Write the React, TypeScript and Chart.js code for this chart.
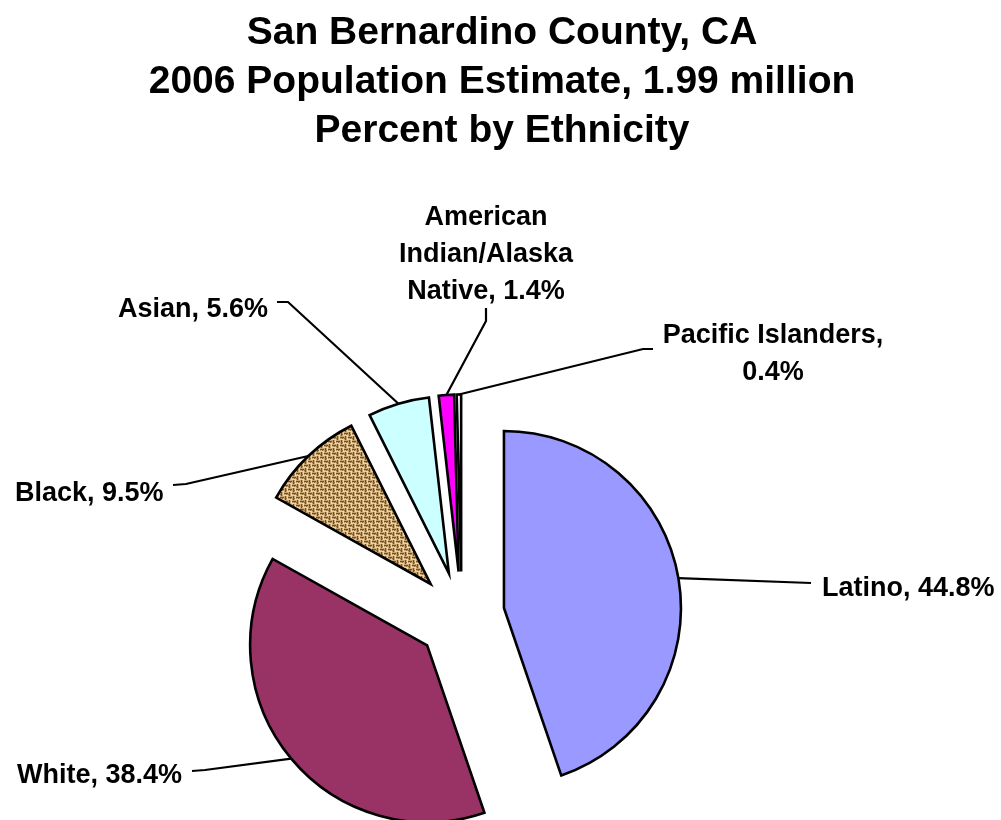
import React, { useEffect, useRef } from "react";
import { Chart, registerables } from "chart.js";

Chart.register(...registerables);

// ---------- data ----------
const categories = [
  "Latino",
  "White",
  "Black",
  "Asian",
  "American Indian/Alaska Native",
  "Pacific Islanders",
];
const percentValues = [44.8, 38.4, 9.5, 5.6, 1.4, 0.4];
const titleLines = [
  "San Bernardino County, CA",
  "2006 Population Estimate, 1.99 million",
  "Percent by Ethnicity",
];

// ---------- styles / layout ----------
const W = 1001;
const H = 820;
const FONT = '"Liberation Sans", Arial, Helvetica, sans-serif';
const sliceColors = ["#9999FF", "#993366", "PATTERN", "#CCFFFF", "#FF00FF", "#FFFFFF"];
const PIE_CENTER = { x: 461.7, y: 616.5 };
const PIE_RADIUS = 177;
// explosion of each slice (px) and optional direction override (deg, 0 = 3 o'clock, clockwise)
const explodeDist = [43.1, 45, 45, 45, 45, 45];
const explodeDir: (number | null)[] = [-11.4, null, null, null, null, null];
// where the leader line meets the slice edge (deg), null = slice bisector
const attachDir: (number | null)[] = [-9.7, null, null, null, null, null];
const LABEL_SIZE = 27;
const LABEL_LINE_H = 37;
const labelWrap = [999, 999, 999, 999, 185, 250];
const labelPlace: { x: number; y: number; align: CanvasTextAlign; leader: number[][] }[] = [
  { x: 822, y: 596, align: "left", leader: [[811, 583]] },
  { x: 17, y: 783, align: "left", leader: [[192, 771], [205, 770]] },
  { x: 15, y: 501, align: "left", leader: [[173, 485], [186, 484]] },
  { x: 268, y: 317, align: "right", leader: [[277, 302], [288, 302]] },
  { x: 486, y: 225, align: "center", leader: [[486, 308], [486, 321]] },
  { x: 773, y: 343, align: "center", leader: [[653, 349], [643, 349]] },
];
const TITLE_SIZE = 39;
const titleBaselines = [44, 93, 142];
const TITLE_X = 502;

function makeBurlap(): CanvasPattern | string {
  const c = document.createElement("canvas");
  c.width = 8;
  c.height = 8;
  const g = c.getContext("2d");
  if (!g) return "#B8956A";
  g.fillStyle = "#C7A572";
  g.fillRect(0, 0, 8, 8);
  g.fillStyle = "#6E5029";
  // basket weave: horizontal strands in TL/BR, vertical in TR/BL
  g.fillRect(0, 1, 4, 1);
  g.fillRect(4, 5, 4, 1);
  g.fillRect(5, 0, 1, 4);
  g.fillRect(1, 4, 1, 4);
  g.fillStyle = "#EAD6A4";
  g.fillRect(0, 3, 4, 1);
  g.fillRect(4, 7, 4, 1);
  g.fillRect(7, 0, 1, 4);
  g.fillRect(3, 4, 1, 4);
  g.fillStyle = "#93703F";
  g.fillRect(2, 2, 1, 1);
  g.fillRect(6, 6, 1, 1);
  g.fillRect(0, 6, 1, 1);
  g.fillRect(6, 2, 1, 1);
  const p = g.createPattern(c, "repeat");
  return p || "#B8956A";
}

function wrapText(ctx: CanvasRenderingContext2D, text: string, maxW: number): string[] {
  const words = text.split(" ");
  const lines: string[] = [];
  let cur = "";
  for (const w of words) {
    const t = cur ? cur + " " + w : w;
    if (cur && ctx.measureText(t).width > maxW) {
      lines.push(cur);
      cur = w;
    } else cur = t;
  }
  if (cur) lines.push(cur);
  return lines;
}

const explodePlugin = {
  id: "explodeSlices",
  afterDatasetUpdate(chart: any, args: any) {
    const meta = args.meta;
    meta.data.forEach((arc: any, i: number) => {
      const mid = (arc.startAngle + arc.endAngle) / 2;
      const dir = explodeDir[i] != null ? ((explodeDir[i] as number) * Math.PI) / 180 : mid;
      const d = explodeDist[i] || 0;
      arc.x += d * Math.cos(dir);
      arc.y += d * Math.sin(dir);
    });
  },
};

const labelPlugin = {
  id: "pieLabels",
  afterDraw(chart: any) {
    const ctx: CanvasRenderingContext2D = chart.ctx;
    ctx.save();
    // title
    ctx.fillStyle = "#000";
    ctx.textAlign = "center";
    ctx.textBaseline = "alphabetic";
    ctx.font = `bold ${TITLE_SIZE}px ${FONT}`;
    titleLines.forEach((t, i) => ctx.fillText(t, TITLE_X, titleBaselines[i]));

    const meta = chart.getDatasetMeta(0);
    ctx.font = `bold ${LABEL_SIZE}px ${FONT}`;
    meta.data.forEach((arc: any, i: number) => {
      const p = labelPlace[i];
      const mid = (arc.startAngle + arc.endAngle) / 2;
      const a = attachDir[i] != null ? ((attachDir[i] as number) * Math.PI) / 180 : mid;
      const ax = arc.x + arc.outerRadius * Math.cos(a);
      const ay = arc.y + arc.outerRadius * Math.sin(a);
      ctx.strokeStyle = "#000";
      ctx.lineWidth = 2.2;
      ctx.lineJoin = "miter";
      ctx.beginPath();
      p.leader.forEach((pt, k) => (k === 0 ? ctx.moveTo(pt[0], pt[1]) : ctx.lineTo(pt[0], pt[1])));
      ctx.lineTo(ax, ay);
      ctx.stroke();

      const text = `${categories[i]}, ${percentValues[i].toFixed(1)}%`;
      const lines = wrapText(ctx, text, labelWrap[i]);
      ctx.textAlign = p.align;
      lines.forEach((ln, k) => ctx.fillText(ln, p.x, p.y + k * LABEL_LINE_H));
    });
    ctx.restore();
  },
};

export default function App() {
  const canvasRef = useRef<HTMLCanvasElement | null>(null);

  useEffect(() => {
    const canvas = canvasRef.current;
    if (!canvas) return;
    const pattern = makeBurlap();
    const colors = sliceColors.map((c) => (c === "PATTERN" ? pattern : c));
    const half = Math.min(PIE_CENTER.y, H - PIE_CENTER.y) - 0.5;
    const chart = new Chart(canvas, {
      type: "pie",
      data: {
        labels: categories,
        datasets: [
          {
            data: percentValues,
            backgroundColor: colors as any,
            borderColor: "#000000",
            borderWidth: 2.6,
            borderJoinStyle: "miter",
            radius: PIE_RADIUS,
            clip: false,
          } as any,
        ],
      },
      options: {
        animation: false,
        responsive: false,
        events: [],
        layout: {
          padding: {
            left: PIE_CENTER.x - half,
            right: W - (PIE_CENTER.x + half),
            top: PIE_CENTER.y - half,
            bottom: H - (PIE_CENTER.y + half),
          },
        },
        plugins: {
          legend: { display: false },
          tooltip: { enabled: false },
          title: { display: false },
        },
      },
      plugins: [explodePlugin, labelPlugin],
    });
    return () => chart.destroy();
  }, []);

  return (
    <div style={{ position: "absolute", left: 0, top: 0, width: W, height: H, background: "#fff" }}>
      <canvas ref={canvasRef} width={W} height={H} style={{ display: "block", width: W, height: H }} />
    </div>
  );
}
